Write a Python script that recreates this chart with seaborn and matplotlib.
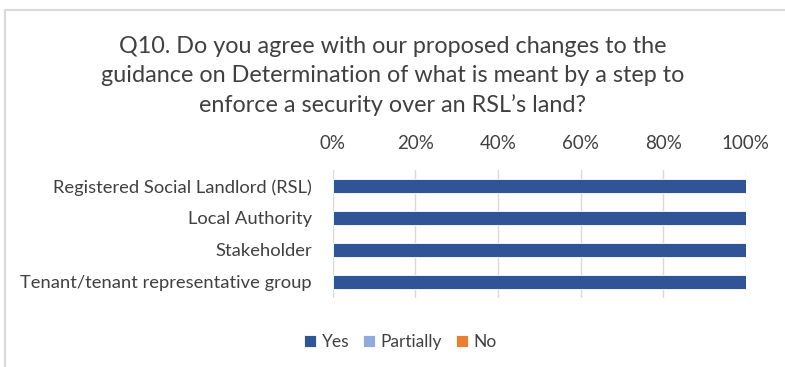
import matplotlib
matplotlib.use("Agg")
import matplotlib.pyplot as plt
from matplotlib.patches import Rectangle
import seaborn as sns
import pandas as pd
import numpy as np

categories = [
    "Registered Social Landlord (RSL)",
    "Local Authority",
    "Stakeholder",
    "Tenant/tenant representative group",
]
yes = [100, 100, 100, 100]
partially = [0, 0, 0, 0]
no = [0, 0, 0, 0]

series_names = ["Yes", "Partially", "No"]
colors = {"Yes": "#2F5597", "Partially": "#8FAADC", "No": "#ED7D31"}
title = ("Q10. Do you agree with our proposed changes to the\n"
         "guidance on Determination of what is meant by a step to\n"
         "enforce a security over an RSL\u2019s land?")

sns.set_theme(style="white")
plt.rcParams["font.family"] = ["Lato", "DejaVu Sans"]

df = pd.DataFrame({"category": categories, "Yes": yes,
                   "Partially": partially, "No": no})
# cumulative totals so the stacked segments can be layered back to front
df["cum_Yes"] = df["Yes"]
df["cum_Partially"] = df["Yes"] + df["Partially"]
df["cum_No"] = df["Yes"] + df["Partially"] + df["No"]

fig = plt.figure(figsize=(7.85, 3.67), dpi=100)
ax = fig.add_axes([0.424, 0.188, 0.526, 0.349])

for name in reversed(series_names):
    sns.barplot(data=df, y="category", x="cum_" + name, orient="h",
                color=colors[name], width=0.42, ax=ax, label=name,
                edgecolor="white", linewidth=0.6, saturation=1)

ax.set_xlim(0, 100)
ax.set_xticks(np.arange(0, 101, 20))
ax.set_xticklabels([f"{v}%" for v in range(0, 101, 20)])
ax.xaxis.tick_top()
ax.tick_params(axis="x", length=0, pad=13, labelsize=13.5, colors="#404040")
ax.tick_params(axis="y", length=0, pad=15, labelsize=13.2, colors="#404040")
ax.set_xlabel("")
ax.set_ylabel("")
ax.grid(axis="x", color="#D9D9D9", linewidth=1)
ax.set_axisbelow(True)
for s in ax.spines.values():
    s.set_visible(False)

handles, labels = ax.get_legend_handles_labels()
order = [labels.index(n) for n in series_names]
ax.legend([handles[i] for i in order], [labels[i] for i in order],
          loc="center", bbox_to_anchor=(0.51, 0.068), bbox_transform=fig.transFigure,
          ncol=3, frameon=False, fontsize=12.5, handlelength=0.7, handleheight=0.7,
          handletextpad=0.3, columnspacing=0.8, labelcolor="#404040")

fig.text(0.5, 0.793, title, ha="center", va="center", fontsize=16.8,
         color="#404040", linespacing=1.45)

fig.patches.append(Rectangle((5 / 785, -0.2), 1.2, 1.2 - 10 / 367,
                             transform=fig.transFigure, fill=False,
                             edgecolor="#D9D9D9", linewidth=1.5))

fig.savefig("out.png", dpi=100, facecolor="white")
